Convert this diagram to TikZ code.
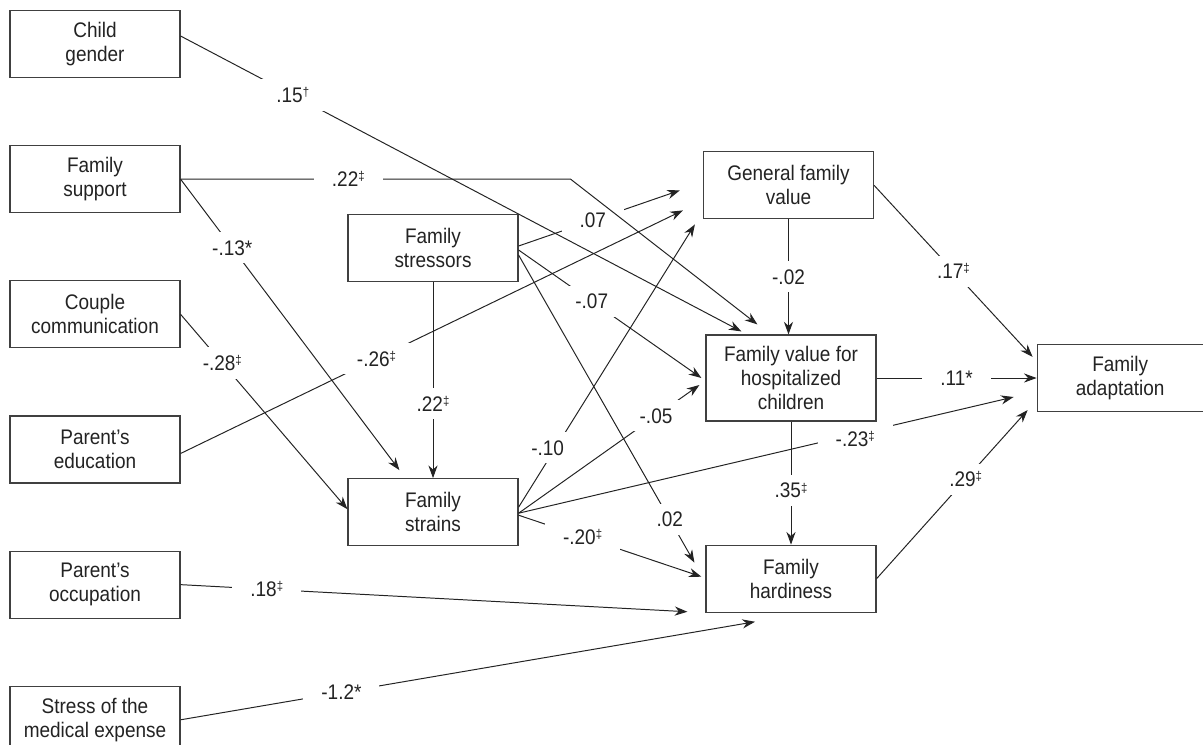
\documentclass[tikz,border=0pt]{standalone}
\usepackage{fontspec}
\setmainfont{Liberation Sans}[FakeStretch=0.9]
\usepackage{xcolor}
\usepackage{tikz}
\usetikzlibrary{arrows.meta,positioning,calc}
\definecolor{boxgray}{RGB}{64,64,64}
\definecolor{inkgray}{RGB}{35,35,35}
\newcommand{\sigmark}[1]{\raisebox{4.2pt}{\fontsize{9}{10}\selectfont #1}}

\begin{document}
\begin{tikzpicture}[
    x=0.025cm, y=-0.025cm,
    varbox/.style={
      rectangle, draw=boxgray, line width=0.8pt, fill=white,
      minimum width=4.25cm, minimum height=1.675cm,
      align=center, text=inkgray, font=\fontsize{15}{17}\selectfont
    },
    coef/.style={fill=white, inner xsep=0.45cm, inner ysep=0.2cm,
      text=inkgray, font=\fontsize{15}{17}\selectfont},
    arrow/.style={-{Stealth[length=9pt,width=6.5pt]}, line width=0.7pt, draw=inkgray}
  ]
    \useasboundingbox (0,0) rectangle (1203,744);
    % exogenous variables
    \node[varbox] (cg) at (95,44) {Child\\gender};
    \node[varbox, below=1.675cm of cg] (fsup) {Family\\support};
    \node[varbox, below=1.675cm of fsup] (ccom) {Couple\\communication};
    \node[varbox, below=1.675cm of ccom] (pedu) {Parent’s\\education};
    \node[varbox, below=1.675cm of pedu] (pocc) {Parent’s\\occupation};
    \node[varbox, below=1.675cm of pocc] (smed) {Stress of the\\medical expense};
    % stressors and strains
    \node[varbox] (fstr) at (433,248) {Family\\stressors};
    \node[varbox, below=4.9cm of fstr] (fstn) {Family\\strains};
    % values, hardiness, adaptation
    \node[varbox, minimum height=2.15cm] (fvh) at (791,378) {Family value for\\hospitalized\\children};
    \node[varbox, above=2.875cm of fvh, xshift=-0.0625cm] (gfv) {General family\\value};
    \node[varbox, below=3.075cm of fvh] (fhar) {Family\\hardiness};
    \node[varbox, minimum width=4.15cm, right=4cm of fvh] (fada) {Family\\adaptation};
    \coordinate (bend) at ($(fsup.east)+(390,0)$);

    \draw[arrow] ($(fstr.east)+(0,-2)$) -- node[coef, pos=0.46] {.07} ($(gfv.west)+(-23,5)$);
    \draw[arrow] ($(fstr.east)+(0,2)$) -- node[coef, pos=0.40] {-.07} ($(fvh.west)+(-4,0)$);
    \draw[arrow] (fstr) -- node[coef, pos=0.62] {.22\sigmark{‡}} (fstn);
    \draw[arrow] ($(fstn.east)+(0,-5)$) -- node[coef, pos=0.21, xshift=-0.2cm] {-.10} ($(gfv.south west)+(-8,5)$);
    \draw[arrow] ($(fstn.east)+(0,1)$) -- node[coef, pos=0.76] {-.05} ($(fvh.west)+(-6,7)$);
    \draw[arrow] ($(fstn.east)+(0,1)$) -- node[coef, pos=0.68, yshift=-0.12cm] {-.23\sigmark{‡}} ($(fada.west)+(-23,19)$);
    \draw[arrow] ($(fstn.east)+(0,3)$) -- node[coef, pos=0.35] {-.20\sigmark{‡}} ($(fhar.west)+(-4,-2)$);
    \draw[arrow] ($(fstr.east)+(0,7)$) -- node[coef, pos=0.86] {.02} ($(fhar.north west)+(-11,18)$);

    \draw[arrow] (fsup.east) -- node[coef, pos=0.43] {.22\sigmark{‡}} (bend) -- ($(fvh.north west)+(52,-10)$);
    \draw[arrow] ($(cg.east)+(0,-8)$) -- node[coef, pos=0.2] {.15\sigmark{†}} ($(fvh.north west)+(36,-3)$);
    \draw[arrow] (fsup.east) -- node[coef, pos=0.236] {-.13*} ($(fstn.north west)+(52,-8)$);
    \draw[arrow] (ccom.east) -- node[coef, pos=0.25] {-.28\sigmark{‡}} ($(fstn.west)+(0,-3)$);
    \draw[arrow] ($(pedu.east)+(0,4)$) -- node[coef, pos=0.39] {-.26\sigmark{‡}} ($(gfv.south west)+(-20,-9)$);
    \draw[arrow] (pocc.east) -- node[coef, pos=0.17] {.18\sigmark{‡}} ($(fhar.south west)+(-18,-1)$);
    \draw[arrow] (smed.east) -- node[coef, pos=0.28] {-1.2*} ($(fhar.south)+(-36,9)$);

    \draw[arrow] (gfv.south) -- node[coef] {-.02} (gfv.south |- fvh.north);
    \draw[arrow] (gfv.east) -- node[coef] {.17\sigmark{‡}} ($(fada.north west)+(-4,13)$);
    \draw[arrow] (fvh) -- node[coef] {.11*} (fada);
    \draw[arrow] (fvh) -- node[coef, pos=0.56] {.35\sigmark{‡}} (fhar);
    \draw[arrow] (fhar.east) -- node[coef, pos=0.59] {.29\sigmark{‡}} ($(fada.south west)+(-9,-2)$);
  \end{tikzpicture}
\end{document}
